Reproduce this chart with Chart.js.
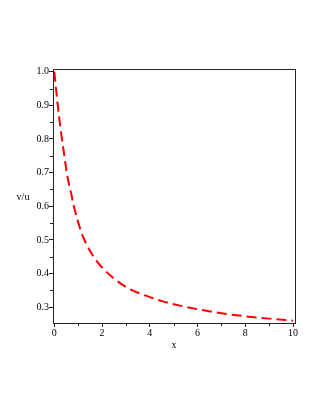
<!DOCTYPE html>
<html><head><meta charset="utf-8">
<script src="https://cdn.jsdelivr.net/npm/chart.js@4"></script>
<style>html,body{margin:0;padding:0;background:#fff}#wrap{width:321px;height:415px}</style>
</head><body><div id="wrap"><canvas id="c" width="321" height="415"></canvas></div>
<script>
// Data
const xValues = [0, 0.1, 0.2, 0.3, 0.4, 0.5, 0.6, 0.7, 0.8, 0.9, 1.0, 1.2, 1.4, 1.6, 1.8, 2.0, 2.5, 3.0, 3.5, 4.0, 4.5, 5.0, 6.0, 7.0, 8.0, 9.0, 10.0];
const yValues = [1.0, 0.93, 0.865, 0.81, 0.76, 0.71, 0.67, 0.64, 0.605, 0.578, 0.552, 0.51, 0.48, 0.455, 0.435, 0.418, 0.385, 0.36, 0.343, 0.330, 0.318, 0.309, 0.294, 0.282, 0.273, 0.266, 0.26];
const xTickValues = [0, 2, 4, 6, 8, 10];
const xMinorTickValues = [1, 3, 5, 7, 9];
const yTickValues = [0.3, 0.4, 0.5, 0.6, 0.7, 0.8, 0.9, 1.0];
const yMinorTickValues = [0.35, 0.45, 0.55, 0.65, 0.75, 0.85, 0.95];
const xAxisLabel = 'x';
const yAxisLabel = 'v/u';

const points = xValues.map((x, i) => ({x: x, y: yValues[i]}));
const FONT = 'Liberation Serif, Times New Roman, serif';

const frame = {
  id: 'frame',
  afterDatasetsDraw(chart) {
    const {ctx, chartArea: a, scales} = chart;
    ctx.save();
    ctx.strokeStyle = '#222';
    ctx.lineWidth = 1;
    ctx.strokeRect(Math.round(a.left) + 0.5, Math.round(a.top) + 0.5, Math.round(a.right - a.left), Math.round(a.bottom - a.top));
    // minor ticks
    ctx.beginPath();
    xMinorTickValues.forEach(v => {
      const px = Math.round(scales.x.getPixelForValue(v)) + 0.5;
      ctx.moveTo(px, a.bottom); ctx.lineTo(px, a.bottom + 3);
    });
    yMinorTickValues.forEach(v => {
      const py = Math.round(scales.y.getPixelForValue(v)) + 0.5;
      ctx.moveTo(a.left, py); ctx.lineTo(a.left - 3, py);
    });
    ctx.stroke();
    // y axis label (horizontal)
    ctx.fillStyle = '#000';
    ctx.font = '10px ' + FONT;
    ctx.textAlign = 'center';
    ctx.textBaseline = 'middle';
    ctx.fillText(yAxisLabel, 23, (a.top + a.bottom) / 2 + 1);
    ctx.restore();
  }
};

new Chart(document.getElementById('c'), {
  type: 'line',
  data: {
    datasets: [{
      data: points,
      borderColor: '#ff0000',
      borderWidth: 2,
      borderDash: [10, 5],
      pointRadius: 0,
      fill: false,
      cubicInterpolationMode: 'monotone'
    }]
  },
  options: {
    responsive: false,
    animation: false,
    devicePixelRatio: 1,
    layout: {padding: {left: 0, right: 26, top: 69, bottom: 62}},
    plugins: {legend: {display: false}, tooltip: {enabled: false}},
    scales: {
      x: {
        type: 'linear',
        min: -0.055,
        max: 10.08,
        afterBuildTicks: s => { s.ticks = xTickValues.map(v => ({value: v})); },
        afterFit: s => { s.height = 30; },
        grid: {display: true, drawOnChartArea: false, drawTicks: true, tickLength: 4, tickColor: '#222', color: '#222'},
        border: {display: true, color: '#222', width: 1},
        ticks: {color: '#000', font: {family: FONT, size: 10}, padding: 0, maxRotation: 0, autoSkip: false,
                callback: v => String(v)},
        title: {display: true, text: xAxisLabel, color: '#000', font: {family: FONT, size: 10}, padding: {top: 0, bottom: 2}}
      },
      y: {
        type: 'linear',
        min: 0.253,
        max: 1.008,
        afterBuildTicks: s => { s.ticks = yTickValues.map(v => ({value: v})); },
        afterFit: s => { s.width = 53; },
        grid: {display: true, drawOnChartArea: false, drawTicks: true, tickLength: 4, tickColor: '#222', color: '#222'},
        border: {display: true, color: '#222', width: 1},
        ticks: {color: '#000', font: {family: FONT, size: 10}, padding: 0, autoSkip: false,
                callback: v => Number(v).toFixed(1)}
      }
    }
  },
  plugins: [frame]
});
</script>
</body></html>
